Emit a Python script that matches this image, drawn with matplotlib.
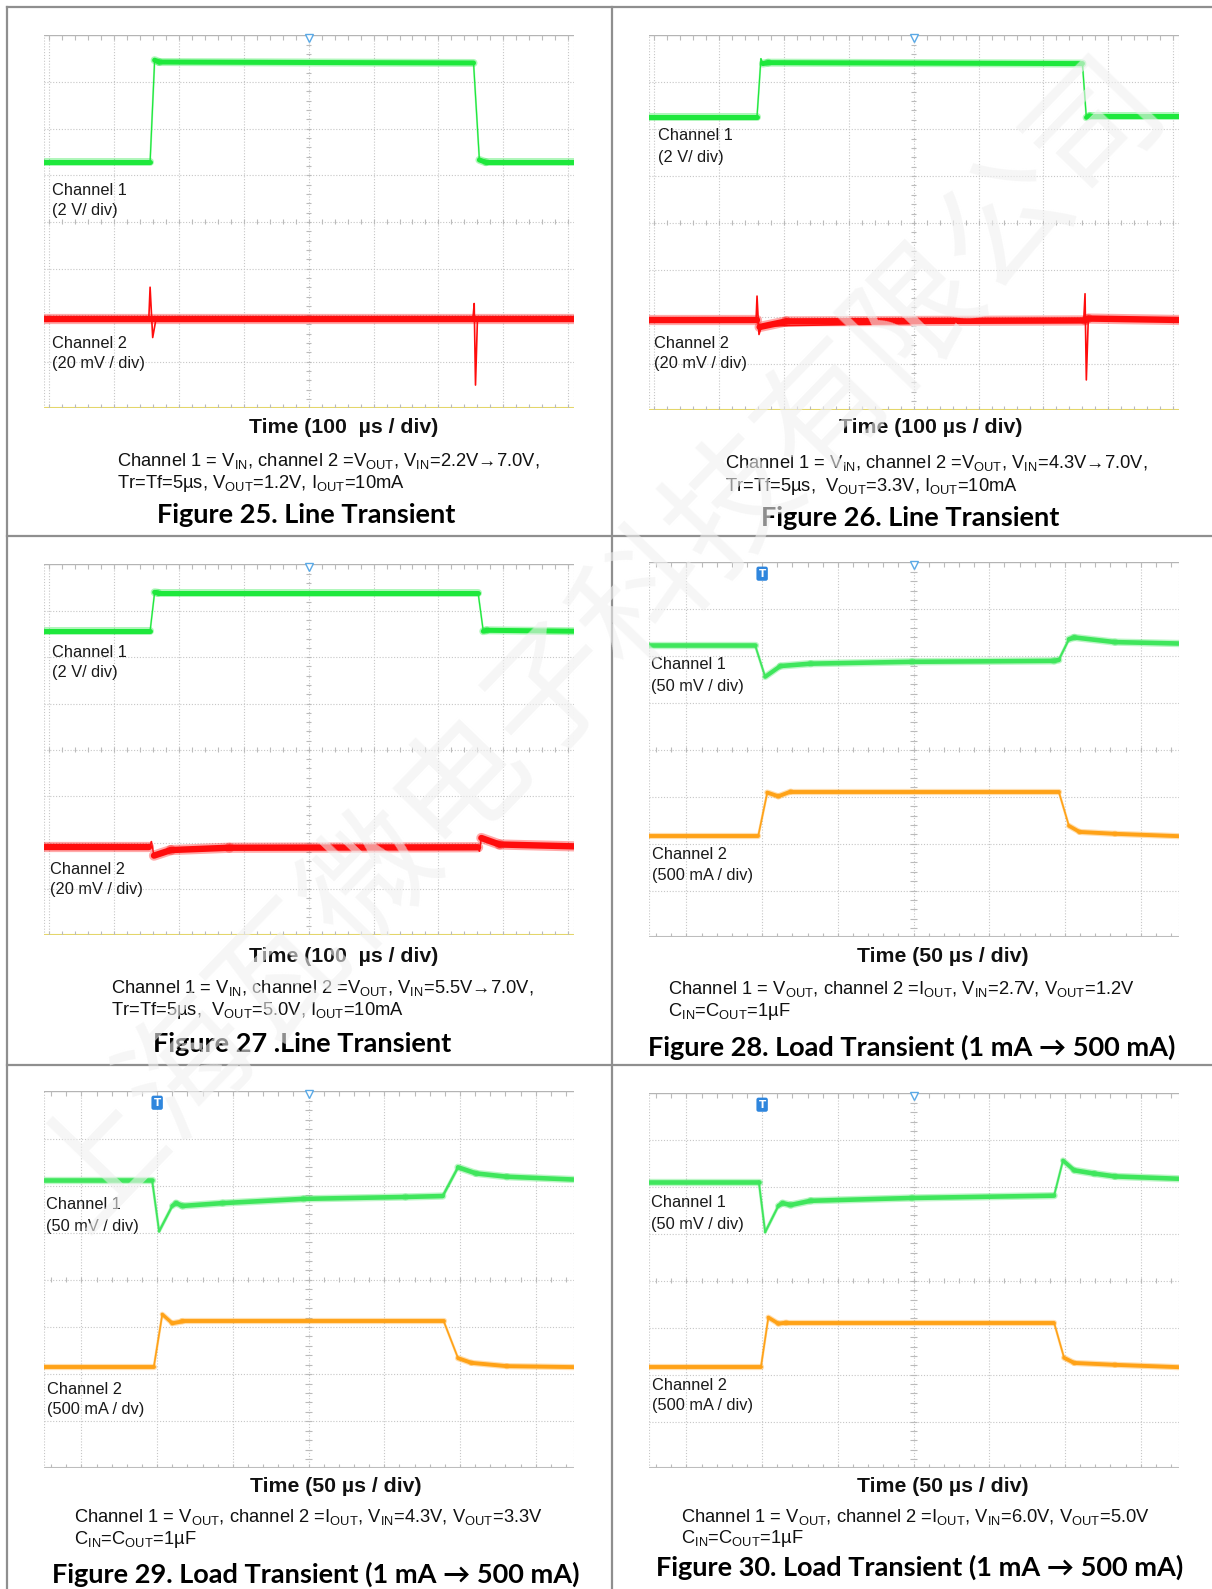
import numpy as np
import matplotlib.pyplot as plt
from matplotlib.lines import Line2D
from matplotlib.collections import LineCollection

plt.rcParams['mathtext.fontset'] = 'custom'
plt.rcParams['mathtext.rm'] = 'Liberation Sans'
plt.rcParams['mathtext.it'] = 'Liberation Sans:italic'
plt.rcParams['mathtext.bf'] = 'Liberation Sans:bold'

# layout grid of the reference (px)
W, H = 1196.0, 1568.0

# ---------------- data: time in us (0 = screen centre), level in divisions above screen bottom
# Figure 25
f25_ch1_t = [-408, -244, -237, -230, 254, 263, 273, 408]
f25_ch1_y = [5.28, 5.28, 7.47, 7.43, 7.41, 5.33, 5.28, 5.28]
f25_ch2_t = [-408, 408]
f25_ch2_y = [1.91, 1.91]
f25_spk_t = [-246, -244, -240, -235, 253, 255, 257, 260]
f25_spk_y = [1.91, 2.60, 1.52, 1.91, 1.91, 2.25, 0.50, 1.91]

# Figure 26
f26_ch1_t = [-408, -241, -235, -232, -224, 260, 266, 271, 408]
f26_ch1_y = [6.27, 6.27, 7.50, 7.40, 7.42, 7.40, 6.25, 6.29, 6.29]
f26_ch2_t = [-408, -241, -237, -196, 264, 269, 408]
f26_ch2_y = [1.92, 1.92, 1.78, 1.90, 1.92, 1.96, 1.93]
f26_spk_t = [-242.5, -241, -238, -234, 262, 264, 266, 269]
f26_spk_y = [1.92, 2.44, 1.62, 1.80, 1.92, 2.49, 0.65, 1.95]

# Figure 27
f27_ch1_t = [-408, -244, -237, -232, 261, 269, 274, 408]
f27_ch1_y = [6.56, 6.56, 7.40, 7.39, 7.39, 6.56, 6.58, 6.56]
f27_ch2_t = [-408, -245, -242, -238, -212, -122, 261, 263, 266, 294, 408]
f27_ch2_y = [1.90, 1.90, 2.02, 1.72, 1.84, 1.89, 1.90, 1.82, 2.10, 1.96, 1.92]

# Figure 28
f28_ch1_t = [-175, -104.6, -98, -87.9, -67.9, -1.0, 92.8, 95.9, 102.6, 106.1, 133, 175]
f28_ch1_y = [6.23, 6.23, 5.56, 5.79, 5.84, 5.88, 5.90, 5.92, 6.36, 6.40, 6.30, 6.27]
f28_ch2_t = [-175, -102.6, -96.6, -89.3, -81.2, 95.9, 102.6, 109.6, 133, 175]
f28_ch2_y = [2.16, 2.16, 3.09, 3.01, 3.11, 3.11, 2.38, 2.25, 2.21, 2.16]

# Figure 29
f29_ch1_t = [-175, -103.3, -98.7, -90, -87.5, -83.3, -56.7, -3.2, 64, 88.6, 98.7, 110.6, 130.9, 175]
f29_ch1_y = [6.11, 6.11, 5.03, 5.57, 5.63, 5.57, 5.63, 5.72, 5.76, 5.78, 6.39, 6.26, 6.19, 6.13]
f29_ch2_t = [-175, -102.2, -96.6, -90, -83.3, 89.3, 98.7, 107.5, 130.9, 175]
f29_ch2_y = [2.15, 2.15, 3.27, 3.08, 3.12, 3.12, 2.34, 2.24, 2.17, 2.15]

# Figure 30
f30_ch1_t = [-175, -102.2, -98, -89.3, -86.5, -81.2, -67.9, -1, 92.8, 98.7, 106.1, 119.4, 133, 175]
f30_ch1_y = [6.12, 6.12, 5.04, 5.60, 5.66, 5.62, 5.71, 5.77, 5.82, 6.57, 6.36, 6.29, 6.23, 6.18]
f30_ch2_t = [-175, -100.8, -95.9, -89.3, -84, 92.8, 99.4, 106.1, 133, 175]
f30_ch2_y = [2.16, 2.16, 3.22, 3.09, 3.11, 3.11, 2.36, 2.25, 2.21, 2.16]

trig_t = -100  # trigger position of the load-transient shots

cap_line = [r'Channel 1 = $\mathrm{V}_{\mathrm{IN}}$, channel 2 =$\mathrm{V}_{\mathrm{OUT}}$, $\mathrm{V}_{\mathrm{IN}}$=2.2V→7.0V,',
            r'Channel 1 = $\mathrm{V}_{\mathrm{IN}}$, channel 2 =$\mathrm{V}_{\mathrm{OUT}}$, $\mathrm{V}_{\mathrm{IN}}$=4.3V→7.0V,',
            r'Channel 1 = $\mathrm{V}_{\mathrm{IN}}$, channel 2 =$\mathrm{V}_{\mathrm{OUT}}$, $\mathrm{V}_{\mathrm{IN}}$=5.5V→7.0V,']
cap_line2 = [r'Tr=Tf=5µs, $\mathrm{V}_{\mathrm{OUT}}$=1.2V, $\mathrm{I}_{\mathrm{OUT}}$=10mA',
             r'Tr=Tf=5µs,  $\mathrm{V}_{\mathrm{OUT}}$=3.3V, $\mathrm{I}_{\mathrm{OUT}}$=10mA',
             r'Tr=Tf=5µs,  $\mathrm{V}_{\mathrm{OUT}}$=5.0V, $\mathrm{I}_{\mathrm{OUT}}$=10mA']
cap_load = [r'Channel 1 = $\mathrm{V}_{\mathrm{OUT}}$, channel 2 =$\mathrm{I}_{\mathrm{OUT}}$, $\mathrm{V}_{\mathrm{IN}}$=2.7V, $\mathrm{V}_{\mathrm{OUT}}$=1.2V',
            r'Channel 1 = $\mathrm{V}_{\mathrm{OUT}}$, channel 2 =$\mathrm{I}_{\mathrm{OUT}}$, $\mathrm{V}_{\mathrm{IN}}$=4.3V, $\mathrm{V}_{\mathrm{OUT}}$=3.3V',
            r'Channel 1 = $\mathrm{V}_{\mathrm{OUT}}$, channel 2 =$\mathrm{I}_{\mathrm{OUT}}$, $\mathrm{V}_{\mathrm{IN}}$=6.0V, $\mathrm{V}_{\mathrm{OUT}}$=5.0V']
cap_cap = r'$\mathrm{C}_{\mathrm{IN}}$=$\mathrm{C}_{\mathrm{OUT}}$=1µF'
titles = ['Figure 25. Line Transient', 'Figure 26. Line Transient', 'Figure 27 .Line Transient',
          'Figure 28. Load Transient (1 mA → 500 mA)', 'Figure 29. Load Transient (1 mA → 500 mA)',
          'Figure 30. Load Transient (1 mA → 500 mA)']

GREEN = '#1ee83c'
GREEN2 = '#3fe65c'
RED = '#ff0d0d'
ORANGE = '#ffa217'

fig = plt.figure(figsize=(12.12, 15.89), dpi=100)


def fx(x):
    return x / W


def fy(y):
    return 1 - y / H


def scope(box, half, usdiv, bottom_col):
    x0, y0, x1, y1 = box
    ax = fig.add_axes([fx(x0), fy(y1), (x1 - x0) / W, (y1 - y0) / H])
    xl = half * usdiv
    ax.set_xlim(-xl, xl)
    ax.set_ylim(0, 8)
    ax.set_axis_off()
    gc = '#c6c6c6'
    dots = (0, (1, 1.6))
    n = int(np.floor(half))
    for xv in np.arange(-n, n + 1) * usdiv:
        ax.axvline(xv, color=gc, lw=0.8, ls=dots, zorder=1)
    for yv in range(1, 8):
        ax.axhline(yv, color=gc, lw=0.8, ls=dots, zorder=1)
    ax.axvline(-xl, color=gc, lw=0.8, ls=dots, zorder=1)
    ax.axvline(xl, color=gc, lw=0.8, ls=dots, zorder=1)
    ax.axhline(8, color='#b4b4b4', lw=1.0, zorder=1)
    ax.axhline(0, color=bottom_col, lw=1.5, zorder=1)
    tc = '#bbbbbb'
    m = int(np.floor(half * 5))
    mt = np.arange(-m, m + 1) * usdiv / 5
    dy = 0.09
    ax.vlines(mt, 8 - dy, 8, color=tc, lw=0.8, zorder=1)
    ax.vlines(mt, 0, dy, color=tc, lw=0.8, zorder=1)
    ax.vlines(mt, 4 - dy * 0.6, 4 + dy * 0.6, color=tc, lw=0.8, zorder=1)
    my = np.arange(0.2, 7.9, 0.2)
    dx = 0.045 * usdiv
    ax.hlines(my, -dx, dx, color=tc, lw=0.8, zorder=1)
    ax.plot(0, 7.95, marker='v', ms=6, mfc='white', mec='#5aa9e6', mew=1.0,
            clip_on=False, zorder=6)
    return ax


def band(ax, t, y, color, lw, thin=0.9):
    # flat stretches keep the noise-band width, steep edges are drawn thin
    t = np.asarray(t, float)
    y = np.asarray(y, float)
    x0, x1 = ax.get_xlim()
    pts = np.column_stack([t, y])
    segs = np.stack([pts[:-1], pts[1:]], axis=1)
    slope = np.abs(np.diff(y) / 8.0) / np.maximum(np.diff(t) / (x1 - x0), 1e-9)
    k = np.clip((slope - 0.6) / 2.5, 0, 1)
    widths = lw * (1 - k) + thin * k
    ax.add_collection(LineCollection(segs, colors=color, linewidths=widths * 1.6,
                                     alpha=0.35, capstyle='round', zorder=3))
    ax.add_collection(LineCollection(segs, colors=color, linewidths=widths,
                                     capstyle='round', zorder=4))


def tmark(ax, t):
    ax.text(t, 7.76, 'T', ha='center', va='center', color='white', fontsize=7.5,
            weight='bold', family='DejaVu Sans', zorder=7,
            bbox=dict(boxstyle='round,pad=0.2', fc='#2f86dd', ec='none'))


def label(x, y, s, **kw):
    fig.text(fx(x), fy(y), s, ha='left', va='center', fontsize=11.8,
             family='Liberation Sans', color='#1a1a1a', **kw)


def caption(x, y, s):
    fig.text(fx(x), fy(y), s, ha='left', va='center', fontsize=13.2,
             family='Liberation Sans', color='#111111')


def tlabel(x, y, s):
    fig.text(fx(x), fy(y), s, ha='center', va='center', fontsize=15.3,
             family='Liberation Sans', weight='bold', color='#111111')


def title(x, y, s):
    fig.text(fx(x), fy(y), s, ha='center', va='center', fontsize=19.5,
             family=['Lato', 'DejaVu Sans'], weight='bold', color='#000000')


YEL = '#e4d66a'
GRAYB = '#bdbdbd'

# ---- Figure 25
ax = scope((43, 35, 566, 403), 4.08, 100, YEL)
band(ax, f25_ch1_t, f25_ch1_y, GREEN, 3.6)
band(ax, f25_ch2_t, f25_ch2_y, RED, 4.6)
ax.plot(f25_spk_t, f25_spk_y, color=RED, lw=1.2, zorder=5)
label(51, 188, 'Channel 1'); label(51, 208, '(2 V/ div)')
label(51, 339, 'Channel 2'); label(51, 359, '(20 mV / div)')
tlabel(339, 422, 'Time (100  µs / div)')
caption(115, 455, cap_line[0]); caption(115, 477, cap_line2[0])
title(302, 508, titles[0])

# ---- Figure 26
ax = scope((640, 35, 1163, 405), 4.08, 100, YEL)
band(ax, f26_ch1_t, f26_ch1_y, GREEN, 3.6)
band(ax, f26_ch2_t, f26_ch2_y, RED, 4.6)
ax.plot(f26_spk_t, f26_spk_y, color=RED, lw=1.2, zorder=5)
label(649, 134, 'Channel 1'); label(649, 155, '(2 V/ div)')
label(645, 339, 'Channel 2'); label(645, 359, '(20 mV / div)')
tlabel(918, 422, 'Time (100 µs / div)')
caption(715, 457, cap_line[1]); caption(715, 480, cap_line2[1])
title(898, 511, titles[1])

# ---- Figure 27
ax = scope((43, 557, 566, 923), 4.08, 100, YEL)
band(ax, f27_ch1_t, f27_ch1_y, GREEN, 3.6)
band(ax, f27_ch2_t, f27_ch2_y, RED, 4.6)
label(51, 644, 'Channel 1'); label(51, 664, '(2 V/ div)')
label(49, 858, 'Channel 2'); label(49, 878, '(20 mV / div)')
tlabel(339, 944, 'Time (100  µs / div)')
caption(110, 975, cap_line[2]); caption(110, 997, cap_line2[2])
title(298, 1030, titles[2])

# ---- Figure 28
ax = scope((640, 555, 1163, 925), 3.5, 50, GRAYB)
band(ax, f28_ch1_t, f28_ch1_y, GREEN2, 3.3, 1.3)
band(ax, f28_ch2_t, f28_ch2_y, ORANGE, 2.8, 1.2)
tmark(ax, trig_t)
label(642, 656, 'Channel 1'); label(642, 677, '(50 mV / div)')
label(643, 843, 'Channel 2'); label(643, 864, '(500 mA / div)')
tlabel(930, 944, 'Time (50 µs / div)')
caption(659, 976, cap_load[0]); caption(659, 998, cap_cap)
title(900, 1033, titles[3])

# ---- Figure 29
ax = scope((43, 1077, 566, 1449), 3.5, 50, GRAYB)
band(ax, f29_ch1_t, f29_ch1_y, GREEN2, 3.3, 1.3)
band(ax, f29_ch2_t, f29_ch2_y, ORANGE, 2.8, 1.2)
tmark(ax, trig_t)
label(45, 1189, 'Channel 1'); label(45, 1210, '(50 mV / div)')
label(46, 1371, 'Channel 2'); label(46, 1391, '(500 mA / dv)')
tlabel(331, 1467, 'Time (50 µs / div)')
caption(73, 1497, cap_load[1]); caption(73, 1519, cap_cap)
title(312, 1554, titles[4])

# ---- Figure 30
ax = scope((640, 1079, 1163, 1449), 3.5, 50, GRAYB)
band(ax, f30_ch1_t, f30_ch1_y, GREEN2, 3.3, 1.3)
band(ax, f30_ch2_t, f30_ch2_y, ORANGE, 2.8, 1.2)
tmark(ax, trig_t)
label(642, 1187, 'Channel 1'); label(642, 1208, '(50 mV / div)')
label(643, 1367, 'Channel 2'); label(643, 1387, '(500 mA / div)')
tlabel(930, 1467, 'Time (50 µs / div)')
caption(672, 1497, cap_load[2]); caption(672, 1518, cap_cap)
title(907, 1547, titles[5])

# ---- table frame
bc = '#8f8f8f'
for (xa, ya, xb, yb) in [(7, 7, 1196, 7), (7, 529, 1196, 529), (7, 1051, 1196, 1051),
                         (7, 7, 7, 1568), (604, 7, 604, 1568)]:
    fig.add_artist(Line2D([fx(xa), fx(xb)], [fy(ya), fy(yb)], color=bc, lw=1.6))

# ---- watermark
fig.text(fx(592), fy(636), '上海瓦微电子科技有限公司', rotation=46, fontsize=94,
         family=['Noto Sans CJK SC', 'DejaVu Sans'], weight='normal', color='#f0f0f0',
         alpha=0.6, ha='center', va='center', rotation_mode='anchor', zorder=10)

fig.savefig('out.png', dpi=100, facecolor='white')
